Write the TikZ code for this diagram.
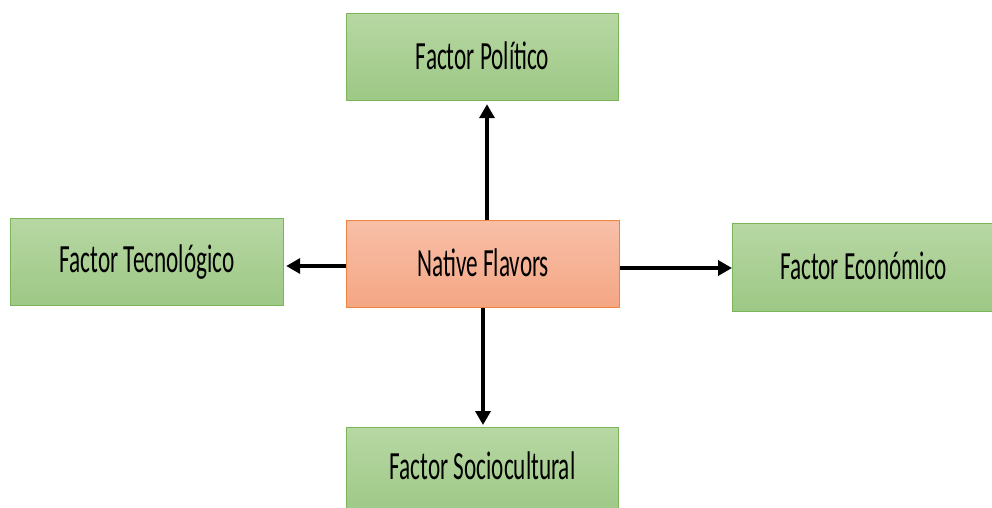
\documentclass[tikz,border=0pt]{standalone}
\usepackage{fontspec}
\setmainfont{Carlito}
\usetikzlibrary{arrows.meta}
\definecolor{gtop}{HTML}{B7D7A3}
\definecolor{gbot}{HTML}{9DC885}
\definecolor{gline}{HTML}{7AB55A}
\definecolor{otop}{HTML}{F8BFA8}
\definecolor{obot}{HTML}{F4A684}
\definecolor{oline}{HTML}{EF8440}
\newcommand{\cond}[1]{\raisebox{3pt}{\scalebox{0.58}[1]{#1}}}
\tikzset{
  gbox/.style={rectangle, draw=gline, line width=1.2pt, top color=gtop, bottom color=gbot,
    inner sep=0pt, anchor=north west, font=\fontsize{40}{48}\selectfont},
  obox/.style={rectangle, draw=oline, line width=1.2pt, top color=otop, bottom color=obot,
    inner sep=0pt, anchor=north west, font=\fontsize{40}{48}\selectfont},
  conn/.style={line width=4pt, -{Triangle[length=14pt,width=15pt]}}
}
\begin{document}
\begin{tikzpicture}[x=1pt,y=-1pt]
\useasboundingbox (0,0) rectangle (992,508);
\node[gbox, minimum width=272pt, minimum height=87pt] (pol) at (346,13) {\cond{Factor Político}};
\node[gbox, minimum width=273pt, minimum height=87pt] (tec) at (10,218) {\cond{Factor Tecnológico}};
\node[obox, minimum width=273pt, minimum height=87pt] (nat) at (346,220) {\cond{Native Flavors}};
\node[gbox, minimum width=262pt, minimum height=88pt] (eco) at (732,223) {\cond{Factor Económico}};
\node[gbox, minimum width=272pt, minimum height=90pt,
  label={[font=\fontsize{40}{48}\selectfont, yshift=5pt]center:\cond{Factor Sociocultural}}] (soc) at (346,427) {};
\draw[conn] (nat.north -| 487,0) -- ([yshift=-3pt]pol.south -| 487,0);
\draw[conn] (nat.south -| 483,0) -- ([yshift=2pt]soc.north -| 483,0);
\draw[conn] (nat.west |- 0,266) -- ([xshift=2pt]tec.east |- 0,266);
\draw[conn] (nat.east |- 0,268) -- (eco.west |- 0,268);
\end{tikzpicture}
\end{document}
